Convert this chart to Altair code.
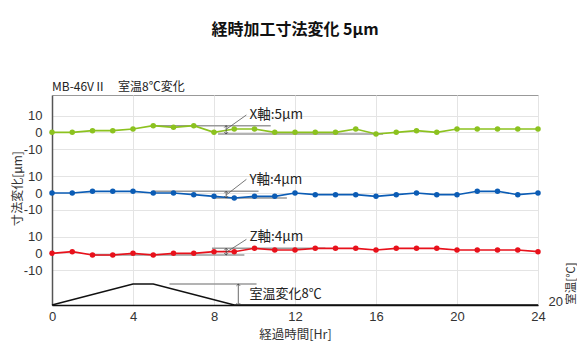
import altair as alt
import pandas as pd

FONT = "Noto Sans CJK JP"
NUM_FONT = "Liberation Sans"

# ---- data ----
hours = list(range(25))
x_vals = [0, 0, 1, 1, 2, 4, 3, 4, 0, 2, 2, 0, 0, 0, 0, 2, -1, 0, 1, 0, 2, 2, 2, 2, 2]
y_vals = [0, 0, 1, 1, 1, 0, 0, -1, -2, -3, -2, -2, 0, -1, -1, -1, -2, -1, 0, -1, -1, 1, 1, -1, 0]
z_vals = [0, 1, -1, -1, 0, -1, 0, 0, 1, 1, 3, 2, 2, 3, 3, 3, 2, 3, 3, 3, 2, 2, 2, 2, 1]
series_names = ["X軸", "Y軸", "Z軸"]
series_colors = ["#8cc21f", "#0b5cb5", "#e8111b"]
band_offsets = [103.6, 67.2, 31.0]  # vertical stacking of the three bands

temp_hours = [0, 4, 5, 9, 24]
temp_vals = [20, 28, 28, 20, 20]

# annotation: spread of each series (min / max) and labels
ann_labels = ["X軸:5μm", "Y軸:4μm", "Z軸:4μm"]
ann_max = [4, 1, 3]
ann_min = [-1, -3, -1]
ann_max_span = [(5.1, 10.8), (5.0, 10.2), (7.9, 13.5)]
ann_min_span = [(8.2, 16.35), (7.95, 11.6), (1.9, 9.5)]
ann_arrow_t = 8.6
ann_leader = [((8.6, 1.8), (9.6, 10.4)), ((8.6, -1.2), (9.6, 8.2)), ((8.6, 0.6), (9.6, 8.4))]
ann_label_pos = [(9.75, 10.4), (9.75, 7.8), (9.75, 9.6)]

temp_label = "室温変化8℃"
temp_ref_span = (5.8, 10.1)
temp_arrow_t = 9.2
temp_label_pos = (9.75, 24.2)

subtitle = "MB-46VⅡ　室温8℃変化"
Y_TOP = 126

# ---- tables ----
rows = []
for name, vals, off in zip(series_names, [x_vals, y_vals, z_vals], band_offsets):
    for t, v in zip(hours, vals):
        rows.append({"t": t, "yv": v + off, "s": name})
df = pd.DataFrame(rows)

ref_rows, arrow_rows, leader_rows, label_rows = [], [], [], []
for i, off in enumerate(band_offsets):
    ref_rows.append({"t": ann_max_span[i][0], "t2": ann_max_span[i][1], "yv": ann_max[i] + off})
    ref_rows.append({"t": ann_min_span[i][0], "t2": ann_min_span[i][1], "yv": ann_min[i] + off})
    arrow_rows.append({"t": ann_arrow_t, "yv": ann_max[i] + off, "yv2": ann_min[i] + off})
    (a, b) = ann_leader[i]
    leader_rows.append({"t": a[0], "t2": b[0], "yv": a[1] + off, "yv2": b[1] + off})
    label_rows.append({"t": ann_label_pos[i][0], "yv": ann_label_pos[i][1] + off, "txt": ann_labels[i]})
ref_df = pd.DataFrame(ref_rows)
arrow_df = pd.DataFrame(arrow_rows)
leader_df = pd.DataFrame(leader_rows)
label_df = pd.DataFrame(label_rows)
sub_df = pd.DataFrame([{"t": 0, "yv": Y_TOP, "txt": subtitle}])

temp_df = pd.DataFrame({"t": temp_hours, "temp": temp_vals})
temp_ref_df = pd.DataFrame([{"t": temp_ref_span[0], "t2": temp_ref_span[1], "temp": max(temp_vals)}])
temp_arrow_df = pd.DataFrame([{"t": temp_arrow_t, "temp": max(temp_vals), "temp2": min(temp_vals)}])
temp_label_df = pd.DataFrame([{"t": temp_label_pos[0], "temp": temp_label_pos[1], "txt": temp_label}])

# ---- encodings ----
x_enc = alt.X(
    "t:Q",
    scale=alt.Scale(domain=[0, 24], nice=False, zero=False),
    axis=alt.Axis(
        values=list(range(0, 25, 4)), title="経過時間[Hr]", grid=True, gridColor="#e4e4e4",
        ticks=False, labelPadding=5, labelFlush=False, domainColor="#111", domainWidth=1.5,
        labelFont=NUM_FONT, labelFontSize=13, labelColor="#333",
        titleFont=FONT, titleFontSize=12.5, titleFontWeight="normal", titleColor="#333",
        titlePadding=5,
    ),
)

tick_vals = []
for off in band_offsets:
    tick_vals += [off - 10, off, off + 10]
lab_expr = (
    f"datum.value > {(band_offsets[0] + band_offsets[1]) / 2} ? round(datum.value - {band_offsets[0]}) : "
    f"datum.value > {(band_offsets[1] + band_offsets[2]) / 2} ? round(datum.value - {band_offsets[1]}) : "
    f"round(datum.value - {band_offsets[2]})"
)
y_scale = alt.Scale(domain=[0, Y_TOP], nice=False, zero=False)
y_axis = alt.Axis(
    values=tick_vals, labelExpr=lab_expr, title="寸法変化[μm]", grid=True, gridColor="#e4e4e4",
    ticks=False, labelPadding=10, domainColor="#555", domainWidth=1.5,
    labelFont=NUM_FONT, labelFontSize=13, labelColor="#333",
    titleFont=FONT, titleFontSize=12, titleFontWeight="normal", titleColor="#333",
    titleX=-35, titleY=93, titleAngle=270, titleAlign="center", titleBaseline="middle",
)
y_enc = alt.Y("yv:Q", scale=y_scale, axis=y_axis)

t_scale = alt.Scale(domain=[20, 100], nice=False, zero=False)
t_axis = alt.Axis(
    orient="right", values=[20], title="室温[℃]", grid=False, ticks=False, domain=False,
    labelPadding=10, labelBaseline="alphabetic",
    labelFont=NUM_FONT, labelFontSize=13, labelColor="#333",
    titleFont=FONT, titleFontSize=11.5, titleFontWeight="normal", titleColor="#333",
    titleX=33, titleY=188, titleAngle=270, titleAlign="center", titleBaseline="middle",
)
t_enc = alt.Y("temp:Q", scale=t_scale, axis=t_axis)

color_enc = alt.Color("s:N", scale=alt.Scale(domain=series_names, range=series_colors), legend=None)

# ---- left (dimension) group ----
refs = alt.Chart(ref_df).mark_rule(color="#9a9a9a", strokeWidth=1.5).encode(x=x_enc, x2="t2:Q", y=y_enc)
lines = alt.Chart(df).mark_line(strokeWidth=1.6).encode(x=x_enc, y=y_enc, color=color_enc)
pts = alt.Chart(df).mark_circle(size=30, opacity=1).encode(x=x_enc, y=y_enc, color=color_enc)
arrows = alt.Chart(arrow_df).mark_rule(color="#444", strokeWidth=0.8).encode(x=x_enc, y=y_enc, y2="yv2:Q")
head_up = alt.Chart(arrow_df).mark_point(shape="M-1,1L0,0L1,1", filled=False, size=14, stroke="#444", strokeWidth=0.8, opacity=1).encode(x=x_enc, y=y_enc)
head_dn = alt.Chart(arrow_df).mark_point(shape="M-1,-1L0,0L1,-1", filled=False, size=14, stroke="#444", strokeWidth=0.8, opacity=1).encode(x=x_enc, y=alt.Y("yv2:Q", scale=y_scale, axis=y_axis))
leaders = alt.Chart(leader_df).mark_rule(color="#555", strokeWidth=0.8).encode(x=x_enc, x2="t2:Q", y=y_enc, y2="yv2:Q")
labels = alt.Chart(label_df).mark_text(align="left", baseline="middle", font=FONT, fontSize=13.5, color="#222").encode(x=x_enc, y=y_enc, text="txt:N")
sub = alt.Chart(sub_df).mark_text(align="left", baseline="middle", dy=-8, font=FONT, fontSize=12, color="#222").encode(x=x_enc, y=y_enc, text="txt:N")

left = alt.layer(refs, lines, pts, arrows, head_up, head_dn, leaders, labels, sub)

# ---- right (temperature) group ----
t_ref = alt.Chart(temp_ref_df).mark_rule(color="#9a9a9a", strokeWidth=1.5).encode(x=x_enc, x2="t2:Q", y=t_enc)
t_line = alt.Chart(temp_df).mark_line(color="#111", strokeWidth=1.5).encode(x=x_enc, y=t_enc)
t_arrow = alt.Chart(temp_arrow_df).mark_rule(color="#444", strokeWidth=0.8).encode(x=x_enc, y=t_enc, y2="temp2:Q")
t_head_up = alt.Chart(temp_arrow_df).mark_point(shape="M-1,1L0,0L1,1", filled=False, size=14, stroke="#444", strokeWidth=0.8, opacity=1).encode(x=x_enc, y=t_enc)
t_head_dn = alt.Chart(temp_arrow_df).mark_point(shape="M-1,-1L0,0L1,-1", filled=False, size=14, stroke="#444", strokeWidth=0.8, opacity=1).encode(x=x_enc, y=alt.Y("temp2:Q", scale=t_scale, axis=t_axis))
t_label = alt.Chart(temp_label_df).mark_text(align="left", baseline="middle", font=FONT, fontSize=13, color="#222").encode(x=x_enc, y=t_enc, text="txt:N")

right = alt.layer(t_ref, t_line, t_arrow, t_head_up, t_head_dn, t_label)

chart = (
    alt.layer(left, right)
    .resolve_scale(y="independent")
    .properties(
        width=486,
        height=210,
        autosize=alt.AutoSizeParams(type="none"),
        padding={"left": 44, "top": 87, "right": 39, "bottom": 49},
        title=alt.TitleParams(
            "経時加工寸法変化 5μm", font=FONT, fontSize=16, fontWeight="bold",
            anchor="middle", offset=43, color="#111",
        ),
    )
    .configure_view(stroke="#999", strokeWidth=1)
)

chart.save("out.html", embed_options={"renderer": "svg", "actions": False})
